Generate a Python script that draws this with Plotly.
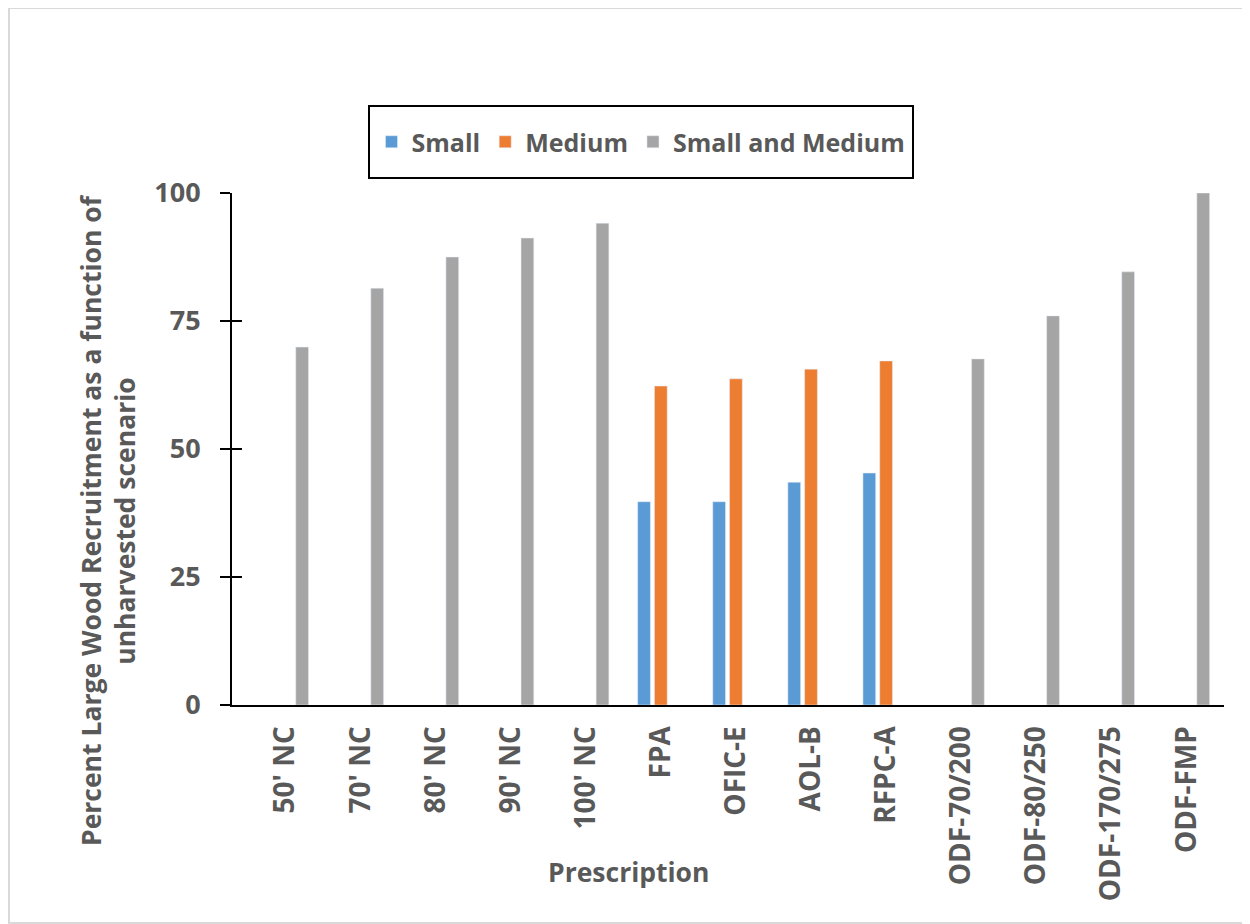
import plotly.graph_objects as go

categories = ["50' NC", "70' NC", "80' NC", "90' NC", "100' NC", "FPA", "OFIC-E",
              "AOL-B", "RFPC-A", "ODF-70/200", "ODF-80/250", "ODF-170/275", "ODF-FMP"]
small = [None, None, None, None, None, 39.7, 39.7, 43.5, 45.3, None, None, None, None]
medium = [None, None, None, None, None, 62.3, 63.7, 65.6, 67.2, None, None, None, None]
small_and_medium = [69.9, 81.4, 87.5, 91.2, 94.1, None, None, None, None, 67.6, 76.0, 84.6, 100]
y_ticks = [0, 25, 50, 75, 100]

FONT = "Open Sans"
TXT = "#595959"

fig = go.Figure()
fig.add_trace(go.Bar(x=categories, y=small, name="Small", marker_color="#5B9BD5"))
fig.add_trace(go.Bar(x=categories, y=medium, name="Medium", marker_color="#ED7D31"))
fig.add_trace(go.Bar(x=categories, y=small_and_medium, name="Small and Medium", marker_color="#A5A5A5"))
# helper so the overlaid tick axis is drawn
fig.add_trace(go.Scatter(x=[categories[0]], y=[None], yaxis="y2", showlegend=False,
                         hoverinfo="skip", mode="markers"))

PW, PH = 992, 512
L, T = 224, 185

def px(xp):
    return (xp - 8 - L) / PW

def py(yp):
    return (T + PH - (yp - 8)) / PH

fig.update_layout(
    width=1250, height=924,
    margin=dict(l=L, r=1250 - L - PW, t=T, b=924 - T - PH, autoexpand=False),
    paper_bgcolor="white", plot_bgcolor="white",
    barmode="group", bargap=0.33, bargroupgap=0.24,
    font=dict(family=FONT, color=TXT, size=25),
    showlegend=True,
    legend=dict(orientation="h", x=px(641), xanchor="center", y=py(142), yanchor="middle",
                borderwidth=0, bgcolor="rgba(0,0,0,0)",
                font=dict(family=FONT, size=25, color=TXT, weight="bold"),
                itemwidth=30, traceorder="normal"),
    xaxis=dict(showline=True, linecolor="black", linewidth=2, ticks="",
               tickangle=-90, automargin=False, ticklabelstandoff=8,
               tickfont=dict(family=FONT, size=28, color=TXT, weight="bold")),
    yaxis=dict(range=[0, 100], tickvals=y_ticks, showline=True, linecolor="black",
               linewidth=2, ticks="outside", ticklen=10, tickcolor="black", tickwidth=2,
               showgrid=False, zeroline=False, automargin=False, ticklabelstandoff=14,
               tickfont=dict(family=FONT, size=27, color=TXT, weight="bold")),
    yaxis2=dict(range=[0, 100], tickvals=y_ticks, overlaying="y", side="left", anchor="x",
                ticks="inside", ticklen=10, tickcolor="black", tickwidth=2,
                showticklabels=False, showgrid=False, zeroline=False, showline=False),
    annotations=[
        dict(text="Prescription", xref="paper", yref="paper", x=px(628), y=py(872),
             xanchor="center", yanchor="middle", showarrow=False,
             font=dict(family=FONT, size=26.5, color=TXT, weight="bold")),
        dict(text="Percent Large Wood Recruitment as a function of<br>unharvested scenario",
             xref="paper", yref="paper", x=px(108), y=py(520), textangle=-90,
             xanchor="center", yanchor="middle", showarrow=False, align="center",
             font=dict(family=FONT, size=26.5, color=TXT, weight="bold")),
    ],
    shapes=[
        dict(type="rect", xref="paper", yref="paper",
             x0=px(369), x1=px(913), y0=py(178), y1=py(106),
             line=dict(color="black", width=2), layer="above"),
        dict(type="rect", xref="paper", yref="paper",
             x0=px(9), x1=px(1246), y0=py(923), y1=py(8),
             line=dict(color="#D9D9D9", width=2)),
    ],
)

fig.write_html("out.html")
